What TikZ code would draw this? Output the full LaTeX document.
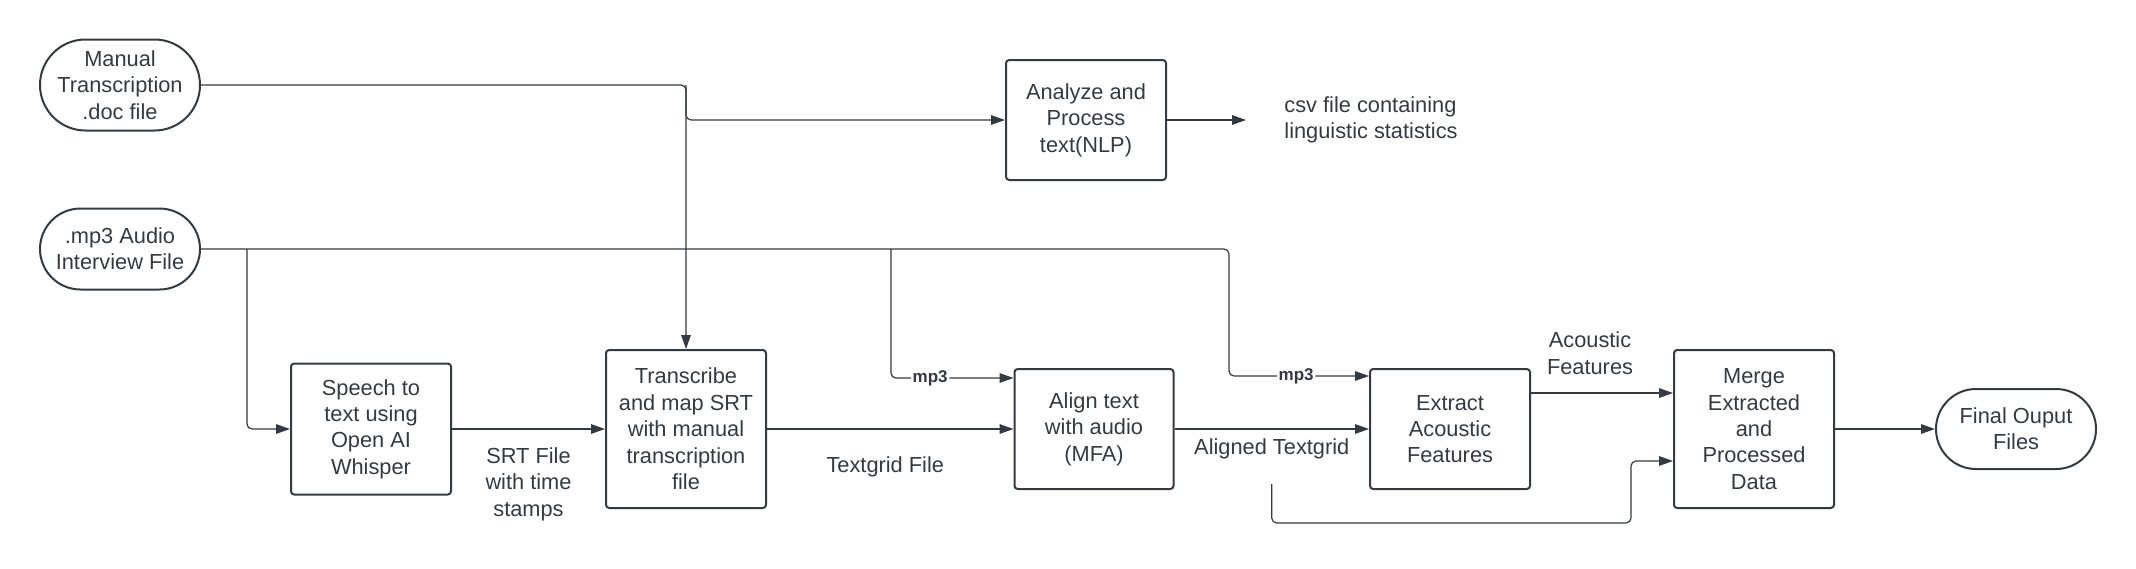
\documentclass[tikz,border=0pt]{standalone}
\usepackage{fontspec}
\setmainfont{Liberation Sans}
\usetikzlibrary{arrows.meta,shapes.misc,calc}
\definecolor{ink}{RGB}{52,58,66}
\begin{document}
\begin{tikzpicture}[x=0.5pt,y=-0.5pt,
  every node/.style={text=ink, font=\fontsize{10.9}{13.2}\selectfont},
  box/.style={draw=ink, line width=1pt, rounded corners=1.6pt, align=center, inner sep=0pt},
  term/.style={draw=ink, line width=1pt, rounded rectangle, align=center, inner sep=0pt},
  arr/.style={draw=ink, line width=0.6pt, rounded corners=2.5pt, -{Triangle[length=7pt,width=4.8pt]}},
  lab/.style={align=center, inner sep=1pt},
  mlab/.style={font=\fontsize{8.5}{9}\selectfont\bfseries, fill=white, inner sep=0.8pt}
]
\useasboundingbox (0,0) rectangle (2136,568);

% nodes
\node[term, minimum width=80pt, minimum height=45.5pt] (man) at (120,85) {Manual\\Transcription\\.doc file};
\node[term, minimum width=80pt, minimum height=40.5pt] (mp3) at (120,249) {.mp3 Audio\\Interview File};
\node[box, minimum width=80pt, minimum height=60pt] (ana) at (1086,120) {Analyze and\\Process\\text(NLP)};
\node[lab, anchor=west, align=left] (csv) at (1282,120) {csv file containing\\linguistic statistics};
\node[box, minimum width=80pt, minimum height=65.5pt] (sp) at (371,429) {Speech to\\text using\\Open AI\\Whisper};
\node[box, minimum width=80pt, minimum height=79pt] (tr) at (686,429) {Transcribe\\and map SRT\\with manual\\transcription\\file};
\node[box, minimum width=79.5pt, minimum height=60pt] (al) at (1094,429) {Align text\\with audio\\(MFA)};
\node[box, minimum width=80pt, minimum height=60pt] (ex) at (1450,429) {Extract\\Acoustic\\Features};
\node[box, minimum width=80pt, minimum height=79pt] (mg) at (1754,429) {Merge\\Extracted\\and\\Processed\\Data};
\node[term, minimum width=80pt, minimum height=40pt] (fin) at (2016,429) {Final Ouput\\Files};

% helper coordinates
\coordinate (j1) at (tr.north |- man.east);
\coordinate (csvin) at ($(ana.east)+(79,0)$);
\coordinate (j2) at ($(mp3.east)+(46,0)$);
\coordinate (j3) at ($(mp3.east)+(690,0)$);
\coordinate (atg) at ($(al.east)!0.5!(ex.west)+(0,55)$);
\coordinate (bot) at ($(mg.west)+(-42,94)$);
\coordinate (mgin2) at ($(mg.west)+(0,32)$);

% connectors
\draw[arr] (man.east) -| (tr.north);
\draw[arr] (j1) |- (ana.west);
\draw[arr] (ana.east) -- (csvin);
\draw[arr] (mp3.east) -| ($(ex.north west)+(-140,8)$) -- node[mlab, pos=0.48]{mp3} ($(ex.north west)+(0,8)$);
\draw[arr] (j2) |- (sp.west);
\draw[arr] (j3) |- node[mlab, pos=0.66]{mp3} ($(al.north west)+(0,10)$);
\draw[arr] (sp.east) -- node[lab, below=8pt]{SRT File\\with time\\stamps} (tr.west);
\draw[arr] (tr.east) -- node[lab, below=12.5pt, xshift=-2.5pt]{Textgrid File} (al.west);
\draw[arr] (al.east) -- node[lab, below=3.5pt]{Aligned Textgrid} (ex.west);
\draw[arr] (atg) |- (bot) |- (mgin2);
\draw[arr] ($(ex.east)+(0,-36)$) -- node[lab, above=8pt, xshift=-6pt]{Acoustic\\Features} ($(mg.west)+(0,-36)$);
\draw[arr] (mg.east) -- (fin.west);
\end{tikzpicture}
\end{document}
